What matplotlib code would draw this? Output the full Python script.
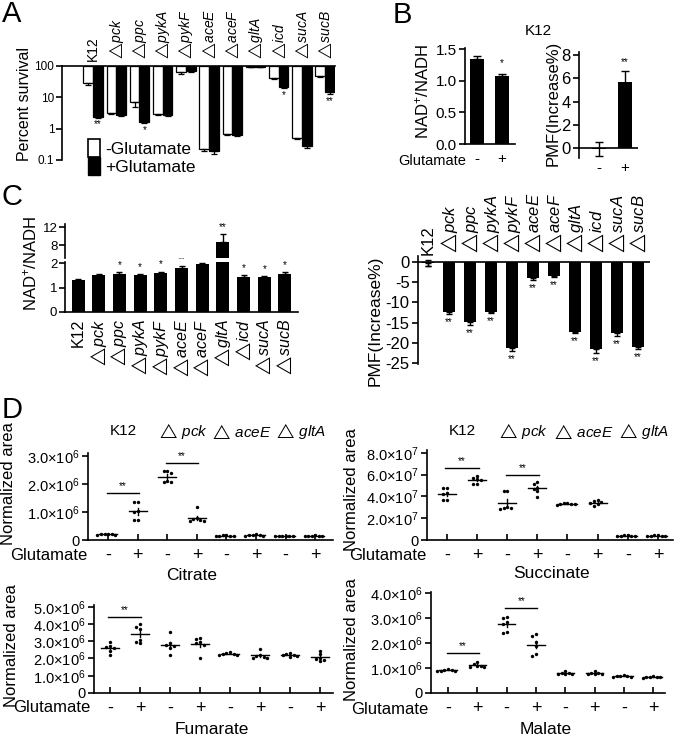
import numpy as np
import matplotlib
matplotlib.use("Agg")
import matplotlib.pyplot as plt
from matplotlib.patches import Patch

plt.rcParams['font.family'] = ['Liberation Sans', 'DejaVu Sans']
plt.rcParams['mathtext.fontset'] = 'custom'
plt.rcParams['mathtext.rm'] = 'Liberation Sans'
plt.rcParams['mathtext.it'] = 'Liberation Sans:italic'
plt.rcParams['mathtext.bf'] = 'Liberation Sans:bold'
plt.rcParams['mathtext.fallback'] = 'stixsans'
plt.rcParams['axes.linewidth'] = 1.2
plt.rcParams['xtick.major.width'] = 1.2
plt.rcParams['ytick.major.width'] = 1.2

# ---------------- data ----------------
genes = ['K12', 'pck', 'ppc', 'pykA', 'pykF', 'aceE', 'aceF', 'gltA', 'icd', 'sucA', 'sucB']

# Panel A: percent survival
survival_minus = [28, 3.2, 7.0, 3.0, 65, 0.22, 0.67, 95, 40, 0.52, 47]
survival_minus_err = [3, 0.3, 2.0, 0.3, 8, 0.02, 0.04, 3, 2, 0.05, 3]
survival_plus = [2.4, 2.8, 1.6, 2.7, 70, 0.19, 0.63, 95, 22, 0.27, 15]
survival_plus_err = [0.15, 0.2, 0.1, 0.2, 6, 0.03, 0.03, 3, 2, 0.03, 2]
survival_stars = ['**', '', '*', '', '', '', '', '', '*', '', '**']

# Panel B
glu_labels = ['-', '+']
nad_k12 = [1.35, 1.07]
nad_k12_err = [0.05, 0.04]
nad_k12_stars = ['', '*']
pmf_k12 = [-0.05, 5.7]
pmf_k12_err = [0.6, 0.9]
pmf_k12_stars = ['', '**']

# Panel C
nad_mut = [1.31, 1.52, 1.55, 1.50, 1.58, 1.82, 1.96, 8.7, 1.45, 1.45, 1.55]
nad_mut_err = [0.03, 0.05, 0.08, 0.06, 0.08, 0.07, 0.04, 1.8, 0.05, 0.04, 0.07]
nad_mut_stars = ['', '', '*', '*', '*', '**', '**', '**', '*', '*', '*']
pmf_mut = [-0.3, -12.3, -14.8, -12.3, -21.3, -4.1, -3.5, -17.4, -21.6, -17.6, -20.9]
pmf_mut_err = [0.8, 0.5, 0.8, 0.4, 0.6, 0.3, 0.3, 0.2, 0.9, 0.6, 0.5]
pmf_mut_stars = [''] + ['**'] * 10

# Panel D
strains_d = ['K12', 'pck', 'aceE', 'gltA']
citrate = [[0.22, 0.21, 0.20, 0.20, 0.19, 0.18],
           [1.35, 1.35, 1.05, 1.0, 0.70, 0.70],
           [2.45, 2.45, 2.40, 2.10, 2.08, 2.05],
           [1.18, 0.78, 0.74, 0.70, 0.68, 0.68],
           [0.18, 0.17, 0.16, 0.15, 0.15, 0.14],
           [0.22, 0.19, 0.18, 0.17, 0.16, 0.16],
           [0.16, 0.16, 0.15, 0.15, 0.15, 0.14],
           [0.17, 0.16, 0.16, 0.15, 0.15, 0.14]]   # x1e6
succinate = [[4.75, 4.75, 4.3, 4.2, 3.7, 3.7],
             [5.9, 5.7, 5.6, 5.5, 5.15, 5.1],
             [4.45, 4.45, 3.0, 2.9, 2.9, 2.85],
             [5.3, 5.15, 4.8, 4.7, 4.5, 3.9],
             [3.35, 3.35, 3.3, 3.3, 3.28, 3.25],
             [3.65, 3.6, 3.5, 3.4, 3.3, 3.15],
             [0.45, 0.42, 0.40, 0.40, 0.38, 0.36],
             [0.45, 0.42, 0.40, 0.40, 0.38, 0.37]]  # x1e7
fumarate = [[2.95, 2.75, 2.65, 2.6, 2.45, 2.2],
            [4.0, 3.85, 3.7, 3.1, 2.95, 2.9],
            [3.55, 2.9, 2.8, 2.75, 2.6, 2.2],
            [3.2, 3.15, 2.95, 2.9, 2.8, 2.0],
            [2.35, 2.3, 2.25, 2.25, 2.2, 2.2],
            [2.55, 2.2, 2.15, 2.1, 2.05, 2.05],
            [2.3, 2.25, 2.2, 2.2, 2.15, 2.1],
            [2.45, 2.25, 2.05, 1.95, 1.9, 1.85]]     # x1e6
malate = [[0.95, 0.93, 0.92, 0.9, 0.9, 0.88],
          [1.25, 1.15, 1.1, 1.1, 1.05, 1.05],
          [3.05, 3.0, 2.85, 2.75, 2.45, 2.4],
          [2.35, 2.3, 2.05, 1.9, 1.55, 1.5],
          [0.88, 0.8, 0.8, 0.75, 0.75, 0.75],
          [0.9, 0.82, 0.8, 0.78, 0.75, 0.75],
          [0.72, 0.7, 0.68, 0.68, 0.65, 0.65],
          [0.68, 0.66, 0.65, 0.65, 0.64, 0.62]]       # x1e6
citrate_sig = [(0, 1.67), (2, 2.76)]
succinate_sig = [(0, 6.63), (2, 6.0)]
fumarate_sig = [(0, 4.4)]
malate_sig = [(0, 1.6), (2, 3.4)]

# ---------------- figure ----------------
W, H = 677, 739
fig = plt.figure(figsize=(W / 100, H / 100), dpi=100)


def axpx(l, t, r, b):
    return fig.add_axes([l / W, 1 - b / H, (r - l) / W, (b - t) / H])


def ftext(x, y, s, **kw):
    return fig.text(x / W, 1 - y / H, s, **kw)


def glabel(g, tight=True):
    if g == 'K12':
        return g
    return r'$\triangle' + (r'\!' if tight else r'\,') + r'\mathit{' + g + '}$'


# ---- panel letters
for letter, (x, y) in zip('ABCD', [(12, 14), (402, 15), (12, 197), (12, 410)]):
    ftext(x, y, letter, fontsize=21, ha='center', va='center')

# ---------------- Panel A ----------------
axA = axpx(62, 66, 335, 160)
xA = np.arange(len(genes))
wA = 0.42
axA.set_yscale('log')
sm = np.array(survival_minus)
sp = np.array(survival_plus)
axA.bar(xA - wA / 2, sm - 100, bottom=100, width=wA, color='white', edgecolor='black', lw=0.9,
        yerr=[survival_minus_err, np.zeros(len(genes))], error_kw=dict(lw=0.9, capsize=2, capthick=0.9))
axA.bar(xA + wA / 2, sp - 100, bottom=100, width=wA, color='black', edgecolor='black', lw=0.9,
        yerr=[survival_plus_err, np.zeros(len(genes))], error_kw=dict(lw=0.9, capsize=2, capthick=0.9, ecolor='black'))
axA.set_ylim(0.1, 100)
axA.set_xlim(-1.34, 10.43)
axA.spines['right'].set_visible(False)
axA.spines['bottom'].set_visible(False)
axA.set_xticks([])
axA.set_yticks([0.1, 1, 10, 100])
axA.set_yticklabels(['0.1', '1', '10', '100'], fontsize=8.5)
axA.yaxis.set_minor_locator(matplotlib.ticker.NullLocator())
axA.tick_params(axis='y', length=4, pad=1.5)
ftext(25, 104, 'Percent survival', rotation=90, ha='center', va='center', fontsize=11.5)
for i, g in enumerate(genes):
    axA.text(i, 1.05, glabel(g), transform=axA.get_xaxis_transform(), rotation=90,
             ha='center', va='bottom', fontsize=10)
    if survival_stars[i]:
        axA.text(i + wA / 2, (sp[i] - survival_plus_err[i]) / 1.15, survival_stars[i],
                 ha='center', va='top', fontsize=7)
fig.legend(handles=[Patch(facecolor='white', edgecolor='black', lw=1.2),
                    Patch(facecolor='black', edgecolor='black')],
           labels=['-Glutamate', '+Glutamate'], loc='upper left',
           bbox_to_anchor=(88 / W, 1 - 139 / H), frameon=False, handlelength=0.7,
           handleheight=1.2, handletextpad=0.3, labelspacing=0.02, borderpad=0,
           borderaxespad=0, fontsize=12.5)

# ---------------- Panel B ----------------
axB1 = axpx(465, 48, 515, 144)
axB1.bar([0, 1], nad_k12, width=0.56, color='black',
         yerr=[[0, 0], nad_k12_err], error_kw=dict(lw=1, capsize=3, capthick=1))
axB1.set_ylim(0, 1.52)
axB1.set_xlim(-0.48, 1.52)
axB1.spines['right'].set_visible(False)
axB1.spines['top'].set_visible(False)
axB1.set_yticks([0, 0.5, 1.0, 1.5])
axB1.set_yticklabels(['0.0', '0.5', '1.0', '1.5'], fontsize=11)
axB1.set_xticks([0, 1])
axB1.set_xticklabels(glu_labels, fontsize=11)
axB1.tick_params(axis='x', length=0, pad=6)
axB1.tick_params(axis='y', length=4, pad=2)
for i in range(2):
    if nad_k12_stars[i]:
        axB1.text(i, nad_k12[i] + nad_k12_err[i] + 0.1, nad_k12_stars[i], ha='center', va='bottom', fontsize=7)
ftext(466, 161, 'Glutamate', ha='right', va='center', fontsize=10.5)
ftext(422, 92, r'NAD$^{+}$/NADH', rotation=90, ha='center', va='center', fontsize=12)

axB2 = axpx(579, 52, 638, 158)
axB2.bar([0, 1], pmf_k12, width=0.54, color='black',
         yerr=pmf_k12_err, error_kw=dict(lw=1, capsize=3, capthick=1))
axB2.set_ylim(-0.85, 8.25)
axB2.set_xlim(-0.77, 1.5)
for s in ['right', 'top', 'bottom']:
    axB2.spines[s].set_visible(False)
axB2.axhline(0, color='black', lw=1.2)
axB2.set_yticks([0, 2, 4, 6, 8])
axB2.set_yticklabels(['0', '2', '4', '6', '8'], fontsize=12)
axB2.set_xticks([0, 1])
axB2.set_xticklabels(glu_labels, fontsize=11)
axB2.tick_params(axis='x', length=0, pad=2)
axB2.tick_params(axis='y', length=4, pad=2)
for i in range(2):
    if pmf_k12_stars[i]:
        axB2.text(i, pmf_k12[i] + pmf_k12_err[i] + 0.35, pmf_k12_stars[i], ha='center', va='bottom', fontsize=7)
ftext(553, 103, 'PMF(Increase%)', rotation=90, ha='center', va='center', fontsize=12)
ftext(538, 31, 'K12', ha='center', va='center', fontsize=11)

# ---------------- Panel C left ----------------
xC = np.arange(len(genes))
axCb = axpx(65, 262, 298, 312)
axCt = axpx(65, 224, 298, 258)
for ax in (axCb, axCt):
    ax.bar(xC, nad_mut, width=0.63, color='black',
           yerr=[np.zeros(len(genes)), nad_mut_err], error_kw=dict(lw=1, capsize=2.5, capthick=1))
    ax.set_xlim(-0.63, 10.63)
    ax.spines['right'].set_visible(False)
    ax.spines['top'].set_visible(False)
    ax.tick_params(axis='y', length=4, pad=1.5, labelsize=9.5)
axCb.set_ylim(0, 2.05)
axCb.set_yticks([0, 1, 2])
axCb.set_xticks(xC)
axCb.set_xticklabels([glabel(g) for g in genes], rotation=90, fontsize=11.5)
axCb.tick_params(axis='x', length=0, pad=5)
axCt.set_ylim(5.1, 12.7)
axCt.set_yticks([8, 12])
axCt.spines['bottom'].set_visible(False)
axCt.set_xticks([])
for i in range(len(genes)):
    if nad_mut_stars[i]:
        tgt = axCt if nad_mut[i] > 2.05 else axCb
        off = 0.5 if tgt is axCt else 0.08
        tgt.text(i, nad_mut[i] + nad_mut_err[i] + off, nad_mut_stars[i], ha='center', va='bottom',
                 fontsize=7, clip_on=False)
ftext(30, 264, r'NAD$^{+}$/NADH', rotation=90, ha='center', va='center', fontsize=12)

# ---------------- Panel C right ----------------
axCr = axpx(418, 256, 650, 364)
axCr.bar(xC, pmf_mut, width=0.57, color='black',
         yerr=[pmf_mut_err, np.zeros(len(genes))], error_kw=dict(lw=1, capsize=2.5, capthick=1))
axCr.errorbar([0], [pmf_mut[0]], yerr=[pmf_mut_err[0]], fmt='none', ecolor='black', lw=1, capsize=2.5)
axCr.set_ylim(-25.2, 1.4)
axCr.set_xlim(-0.48, 10.57)
for s in ['right', 'top', 'bottom']:
    axCr.spines[s].set_visible(False)
axCr.axhline(0, color='black', lw=1.2)
axCr.set_xticks([])
axCr.set_yticks([0, -5, -10, -15, -20, -25])
axCr.set_yticklabels(['0', '-5', '-10', '-15', '-20', '-25'], fontsize=12)
axCr.tick_params(axis='y', length=4, pad=2)
for i, g in enumerate(genes):
    axCr.text(i, 1.6, glabel(g), rotation=90, ha='center', va='bottom', fontsize=12)
    if pmf_mut_stars[i]:
        axCr.text(i, pmf_mut[i] - pmf_mut_err[i] - 0.8, pmf_mut_stars[i], ha='center', va='top', fontsize=7)
ftext(375, 321, 'PMF(Increase%)', rotation=90, ha='center', va='center', fontsize=12.5)

# ---------------- Panel D ----------------


def swarm_offsets(vals, px_per_unit, step=0.12, min_px=3.2):
    placed = []
    offs = []
    cands = [0, -1, 1, -2, 2, -3, 3]
    for v in vals:
        for c in cands:
            dx = c * step
            ok = True
            for (px, pv) in placed:
                if abs(px - dx) < step * 0.9 and abs(pv - v) * px_per_unit < min_px:
                    ok = False
                    break
            if ok:
                break
        placed.append((dx, v))
        offs.append(dx)
    return offs


def panel_d(box, data, scale, ylim, yticks, exp, xlim, sig, name, name_pos, glu_pos, ylab_pos, header_y=None):
    ax = axpx(*box)
    height_px = box[3] - box[1]
    ppu = height_px / (ylim[1] - ylim[0])
    for i, grp in enumerate(data):
        vals = np.array(grp) * scale
        offs = swarm_offsets(vals, ppu)
        ax.scatter(i + np.array(offs), vals, s=6, color='black', zorder=3, linewidths=0)
        m = vals.mean()
        se = vals.std(ddof=1) / np.sqrt(len(vals))
        ax.plot([i - 0.3, i + 0.3], [m, m], color='black', lw=1)
        ax.plot([i, i], [m - se, m + se], color='black', lw=1)
    for (i0, yv) in sig:
        yy = yv * 10 ** exp
        ax.plot([i0 - 0.05, i0 + 1.05], [yy, yy], color='black', lw=1)
        ax.text(i0 + 0.5, yy + 0.02 * (ylim[1] - ylim[0]), '**', ha='center', va='bottom', fontsize=7)
    ax.set_ylim(*ylim)
    ax.set_xlim(*xlim)
    ax.spines['right'].set_visible(False)
    ax.spines['top'].set_visible(False)
    ax.set_yticks(yticks)
    ax.set_yticklabels(['0'] + ['%.1f×10$^{%d}$' % (t / 10 ** exp, exp) for t in yticks[1:]], fontsize=10.5)
    ax.tick_params(axis='y', length=4, pad=2)
    ax.set_xticks(np.arange(8))
    ax.set_xticklabels(glu_labels * 4, fontsize=13)
    ax.tick_params(axis='x', direction='in', length=4, pad=5)
    ftext(glu_pos[0], glu_pos[1], 'Glutamate', ha='right', va='center', fontsize=12)
    ftext(name_pos[0], name_pos[1], name, ha='center', va='center', fontsize=12.5)
    ftext(ylab_pos[0], ylab_pos[1], 'Normalized area', rotation=90, ha='center', va='center', fontsize=12)
    if header_y is not None:
        for k, st in enumerate(strains_d):
            ax.text(2 * k + 0.5, header_y, glabel(st, tight=False), transform=ax.get_xaxis_transform(),
                    ha='center', va='center', fontsize=11)
    return ax


panel_d((88, 453, 333, 540), citrate, 1e6, (0, 3.1e6), [0, 1e6, 2e6, 3e6], 6, (-0.68, 7.6),
        citrate_sig, 'Citrate', (192, 575), (87, 556), (9, 484), header_y=1.25)
panel_d((427, 450, 673, 540), succinate, 1e7, (0, 8.25e7), [0, 2e7, 4e7, 6e7, 8e7], 7, (-0.66, 7.5),
        succinate_sig, 'Succinate', (552, 573), (426, 555), (352, 490), header_y=1.21)
panel_d((94, 605, 333, 693), fumarate, 1e6, (0, 5.1e6), [0, 1e6, 2e6, 3e6, 4e6, 5e6], 6, (-0.53, 7.43),
        fumarate_sig, 'Fumarate', (212, 729), (90, 708), (12, 646))
panel_d((431, 592, 665, 693), malate, 1e6, (0, 4.05e6), [0, 1e6, 2e6, 3e6, 4e6], 6, (-0.58, 7.4),
        malate_sig, 'Malate', (546, 729), (428, 710), (352, 640))

fig.savefig('out.png', dpi=100)
